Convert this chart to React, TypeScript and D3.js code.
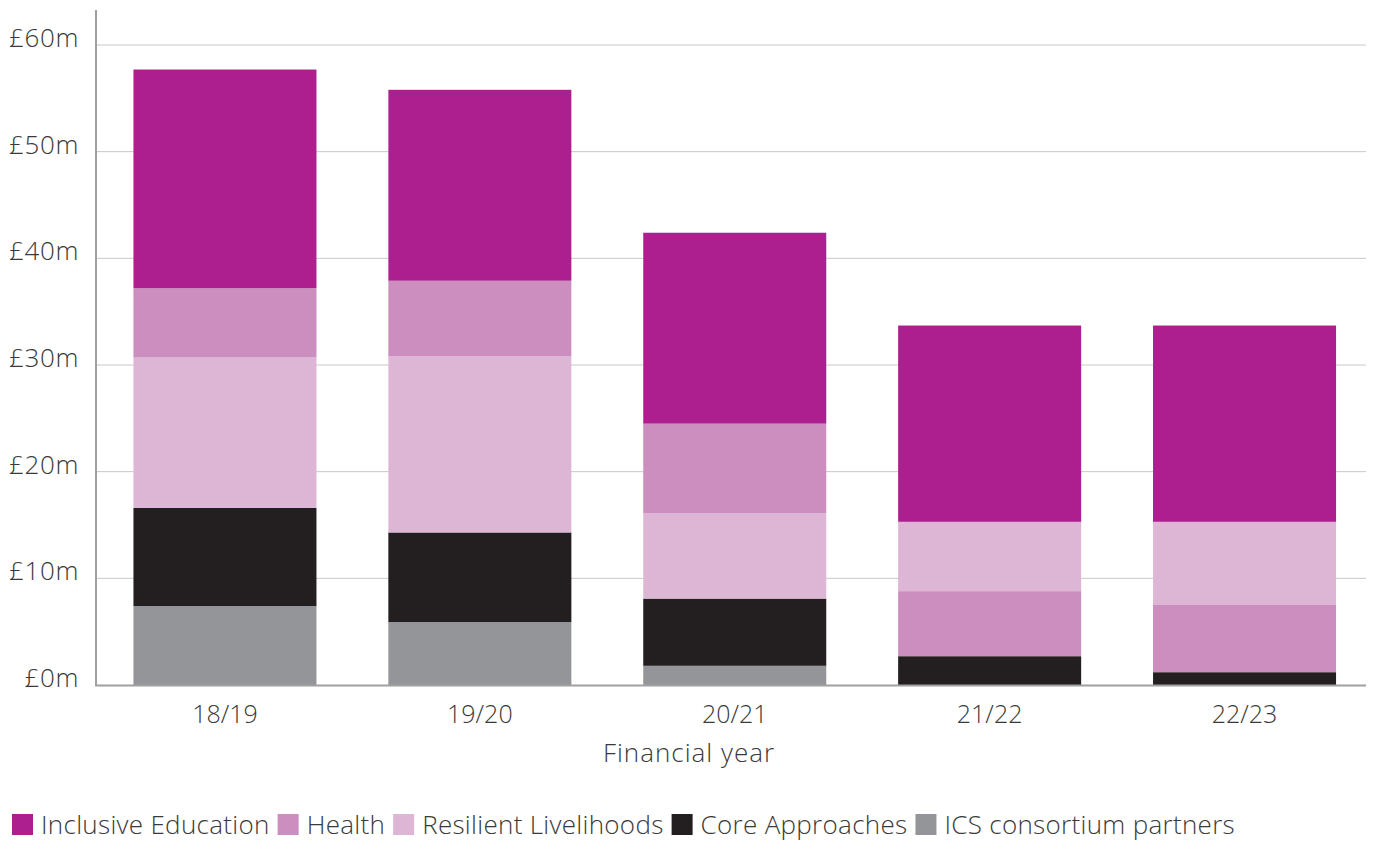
import React, { useEffect, useRef } from "react";
import * as d3 from "d3";

const years = ["18/19", "19/20", "20/21", "21/22", "22/23"];
const seriesNames = ["Inclusive Education", "Health", "Resilient Livelihoods", "Core Approaches", "ICS consortium partners"];
const seriesColors = ["#AD1F8E", "#CB8EBE", "#DDB6D6", "#231F20", "#939598"];
const inclusiveEducation = [20.5, 17.9, 17.9, 18.4, 18.4];
const health = [6.5, 7.1, 8.4, 6.1, 6.3];
const resilientLivelihoods = [14.1, 16.5, 8.0, 6.5, 7.8];
const coreApproaches = [9.2, 8.4, 6.3, 2.7, 1.2];
const icsPartners = [7.4, 5.9, 1.8, 0, 0];
// bottom-to-top stacking order per year (indices into seriesNames)
const stackOrders = [
  [4, 3, 2, 1, 0],
  [4, 3, 2, 1, 0],
  [4, 3, 2, 1, 0],
  [4, 3, 1, 2, 0],
  [4, 3, 1, 2, 0],
];
const yTicks = [0, 10, 20, 30, 40, 50, 60];

const seriesValues = [inclusiveEducation, health, resilientLivelihoods, coreApproaches, icsPartners];

export default function App() {
  const ref = useRef<SVGSVGElement>(null);
  useEffect(() => {
    const svg = d3.select(ref.current);
    svg.selectAll("*").remove();
    const font = "'Open Sans', Lato, sans-serif";
    const textColor = "#3a3a3a";
    const x = d3.scaleBand<string>().domain(years).range([97, 1372.5]).paddingInner(0.282).paddingOuter(0.143);
    const y = d3.scaleLinear().domain([0, 60]).range([685, 45]);

    // gridlines
    svg.append("g").selectAll("line").data(yTicks.filter(t => t > 0)).join("line")
      .attr("x1", 97).attr("x2", 1366)
      .attr("y1", d => y(d)).attr("y2", d => y(d))
      .attr("stroke", "#c8c8c8").attr("stroke-width", 1);

    // bars
    years.forEach((yr, i) => {
      let base = 0;
      stackOrders[i].forEach(si => {
        const v = seriesValues[si][i];
        if (v > 0) {
          svg.append("rect")
            .attr("x", x(yr)!)
            .attr("width", x.bandwidth())
            .attr("y", y(base + v))
            .attr("height", y(base) - y(base + v))
            .attr("fill", seriesColors[si]);
        }
        base += v;
      });
    });

    // axes lines
    svg.append("line").attr("x1", 96).attr("x2", 96).attr("y1", 10).attr("y2", 686)
      .attr("stroke", "#a0a0a0").attr("stroke-width", 2);
    svg.append("line").attr("x1", 95).attr("x2", 1366).attr("y1", 685.5).attr("y2", 685.5)
      .attr("stroke", "#a0a0a0").attr("stroke-width", 2);

    // y tick labels
    svg.append("g").selectAll("text").data(yTicks).join("text")
      .attr("x", 79).attr("y", d => y(d) + 2)
      .attr("text-anchor", "end")
      .attr("font-family", font).attr("font-weight", 300)
      .attr("font-size", 26).attr("letter-spacing", 0.6).attr("fill", textColor)
      .text(d => `£${d}m`);

    // x labels
    svg.append("g").selectAll("text").data(years).join("text")
      .attr("x", d => x(d)! + x.bandwidth() / 2).attr("y", 723)
      .attr("text-anchor", "middle")
      .attr("font-family", font).attr("font-weight", 300)
      .attr("font-size", 25).attr("fill", textColor)
      .text(d => d);

    svg.append("text").attr("x", 689).attr("y", 762)
      .attr("text-anchor", "middle")
      .attr("font-family", font).attr("font-weight", 300)
      .attr("font-size", 26).attr("letter-spacing", 1.0).attr("fill", textColor)
      .text("Financial year");

    // legend
    let lx = 12;
    seriesNames.forEach((name, i) => {
      svg.append("rect").attr("x", lx).attr("y", 814).attr("width", 21).attr("height", 21).attr("fill", seriesColors[i]);
      const t = svg.append("text").attr("x", lx + 29).attr("y", 834)
        .attr("font-family", font).attr("font-weight", 300)
        .attr("font-size", 26).attr("letter-spacing", 0.3).attr("fill", textColor).text(name);
      const w = (t.node() as SVGTextElement).getComputedTextLength();
      lx += 29 + w + 8;
    });
  }, []);
  return (
    <svg ref={ref} width={1374} height={841} style={{ position: "absolute", left: 0, top: 0, background: "#fff" }} />
  );
}
